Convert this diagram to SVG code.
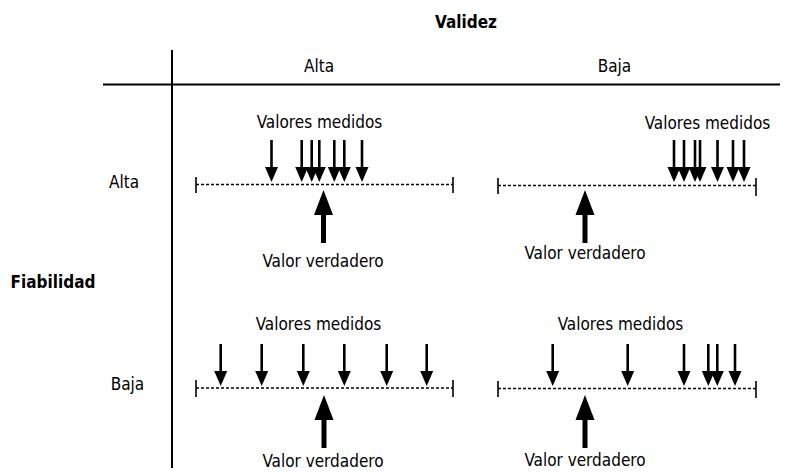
<svg xmlns="http://www.w3.org/2000/svg" xmlns:xlink="http://www.w3.org/1999/xlink" width="787" height="472" viewBox="0 0 787 472">
<style>
text{font-family:'DejaVu Sans Condensed','DejaVu Sans','Liberation Sans',sans-serif;font-stretch:condensed;font-size:17px;fill:#000;text-anchor:middle}
.b{font-weight:bold}
.grid{stroke:#000;stroke-width:2;fill:none}
.axis{stroke:#000;stroke-width:1.5;stroke-dasharray:3 2;fill:none}
.tick{stroke:#000;stroke-width:1.6;fill:none}
</style>
<defs>
<g id="dn"><rect x="-1.3" y="-42" width="2.6" height="28"/><polygon points="-6.5,-15 6.5,-15 0,0"/></g>
<g id="up"><polygon points="0,0 -9.5,25 9.5,25"/><rect x="-2.5" y="24" width="5" height="29"/></g>
</defs>
<rect width="787" height="472" fill="#fff"/>
<g id="frame">
<line class="grid" x1="172" y1="50" x2="172" y2="468"/>
<line class="grid" x1="103" y1="84.5" x2="780" y2="84.5"/>
</g>
<g id="headers">
<text class="b" x="466" y="28">Validez</text>
<text x="319" y="72">Alta</text>
<text x="614.5" y="72">Baja</text>
<text x="124" y="188">Alta</text>
<text class="b" x="53" y="288">Fiabilidad</text>
<text x="127.5" y="390">Baja</text>
</g>
<g id="alta-alta">
<text x="319.5" y="128">Valores medidos</text>
<line class="axis" x1="196" y1="184.5" x2="453" y2="184.5"/>
<line class="tick" x1="196" y1="177" x2="196" y2="193"/>
<line class="tick" x1="453" y1="177" x2="453" y2="193"/>
<use xlink:href="#dn" x="271.5" y="182"/>
<use xlink:href="#dn" x="301.7" y="182"/>
<use xlink:href="#dn" x="311.7" y="182"/>
<use xlink:href="#dn" x="319.3" y="182"/>
<use xlink:href="#dn" x="334.3" y="182"/>
<use xlink:href="#dn" x="344.3" y="182"/>
<use xlink:href="#dn" x="362" y="182"/>
<use xlink:href="#up" x="323.5" y="190"/>
<text x="323" y="267">Valor verdadero</text>
</g>
<g id="alta-baja">
<text x="707.5" y="129">Valores medidos</text>
<line class="axis" x1="498" y1="185.5" x2="756" y2="185.5"/>
<line class="tick" x1="498" y1="178" x2="498" y2="194"/>
<line class="tick" x1="756" y1="178" x2="756" y2="196"/>
<use xlink:href="#dn" x="674" y="182"/>
<use xlink:href="#dn" x="684" y="182"/>
<use xlink:href="#dn" x="695" y="182"/>
<use xlink:href="#dn" x="700" y="182"/>
<use xlink:href="#dn" x="717.5" y="182"/>
<use xlink:href="#dn" x="733" y="182"/>
<use xlink:href="#dn" x="744" y="182"/>
<use xlink:href="#up" x="585" y="190"/>
<text x="585" y="259">Valor verdadero</text>
</g>
<g id="baja-alta">
<text x="318.5" y="330">Valores medidos</text>
<line class="axis" x1="196" y1="388" x2="453" y2="388"/>
<line class="tick" x1="196" y1="380" x2="196" y2="397"/>
<line class="tick" x1="453" y1="380" x2="453" y2="397"/>
<use xlink:href="#dn" x="220.7" y="386"/>
<use xlink:href="#dn" x="261.7" y="386"/>
<use xlink:href="#dn" x="303.3" y="386"/>
<use xlink:href="#dn" x="344.3" y="386"/>
<use xlink:href="#dn" x="386.7" y="386"/>
<use xlink:href="#dn" x="426.7" y="386"/>
<use xlink:href="#up" x="324" y="395"/>
<text x="323" y="466.5">Valor verdadero</text>
</g>
<g id="baja-baja">
<text x="620.5" y="330">Valores medidos</text>
<line class="axis" x1="498" y1="388.5" x2="756" y2="388.5"/>
<line class="tick" x1="498" y1="381" x2="498" y2="397"/>
<line class="tick" x1="756" y1="381" x2="756" y2="398"/>
<use xlink:href="#dn" x="552.7" y="386"/>
<use xlink:href="#dn" x="627.7" y="386"/>
<use xlink:href="#dn" x="684" y="386"/>
<use xlink:href="#dn" x="708.3" y="386"/>
<use xlink:href="#dn" x="717.3" y="386"/>
<use xlink:href="#dn" x="735" y="386"/>
<use xlink:href="#up" x="585" y="395"/>
<text x="585" y="466">Valor verdadero</text>
</g>
</svg>
